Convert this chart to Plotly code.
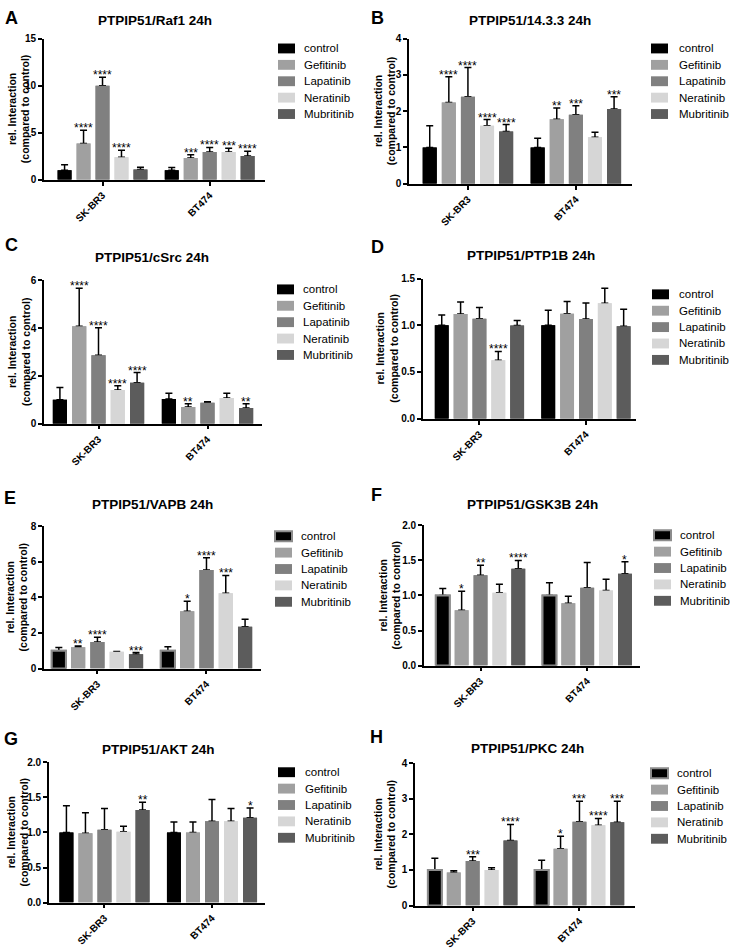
import plotly.graph_objects as go

GROUPS = ["SK-BR3", "BT474"]
SERIES = ["control", "Gefitinib", "Lapatinib", "Neratinib", "Mubritinib"]
COLORS = ["#000000", "#a0a0a0", "#808080", "#d6d6d6", "#5c5c5c"]

# A: PTPIP51/Raf1
RAF1_MEAN = [[1.0, 3.86, 10.0, 2.38, 1.09], [1.0, 2.31, 2.94, 2.94, 2.52]]
RAF1_ERR = [[0.6, 1.4, 0.9, 0.77, 0.24], [0.3, 0.35, 0.5, 0.42, 0.5]]
RAF1_SIG = [["", "****", "****", "****", ""], ["", "***", "****", "***", "****"]]

# B: PTPIP51/14.3.3
P1433_MEAN = [[1.0, 2.24, 2.40, 1.60, 1.44], [1.0, 1.78, 1.90, 1.28, 2.06]]
P1433_ERR = [[0.6, 0.71, 0.8, 0.17, 0.19], [0.25, 0.31, 0.25, 0.14, 0.34]]
P1433_SIG = [["", "****", "****", "****", "****"], ["", "**", "***", "", "***"]]

# C: PTPIP51/cSrc
CSRC_MEAN = [[1.0, 4.08, 2.87, 1.41, 1.72], [1.03, 0.70, 0.88, 1.08, 0.66]]
CSRC_ERR = [[0.52, 1.59, 1.15, 0.18, 0.42], [0.25, 0.14, 0.04, 0.2, 0.17]]
CSRC_SIG = [["", "****", "****", "****", "****"], ["", "**", "", "", "**"]]

# D: PTPIP51/PTP1B
PTP1B_MEAN = [[1.0, 1.12, 1.07, 0.625, 0.998], [1.0, 1.124, 1.068, 1.236, 0.99]]
PTP1B_ERR = [[0.11, 0.13, 0.12, 0.095, 0.053], [0.16, 0.13, 0.17, 0.16, 0.18]]
PTP1B_SIG = [["", "", "", "****", ""], ["", "", "", "", ""]]

# E: PTPIP51/VAPB
VAPB_MEAN = [[1.0, 1.2, 1.5, 0.94, 0.81], [1.0, 3.22, 5.54, 4.24, 2.35]]
VAPB_ERR = [[0.19, 0.07, 0.26, 0.02, 0.09], [0.22, 0.57, 0.69, 1.0, 0.43]]
VAPB_SIG = [["", "**", "****", "", "***"], ["", "*", "****", "***", ""]]

# F: PTPIP51/GSK3B
GSK3B_MEAN = [[1.0, 0.79, 1.29, 1.04, 1.38], [1.0, 0.89, 1.11, 1.07, 1.31]]
GSK3B_ERR = [[0.1, 0.27, 0.14, 0.12, 0.12], [0.18, 0.1, 0.36, 0.16, 0.17]]
GSK3B_SIG = [["", "*", "**", "", "****"], ["", "", "", "", "*"]]

# G: PTPIP51/AKT
AKT_MEAN = [[1.0, 0.99, 1.04, 1.01, 1.32], [1.0, 1.0, 1.16, 1.16, 1.21]]
AKT_ERR = [[0.38, 0.29, 0.3, 0.08, 0.11], [0.15, 0.15, 0.31, 0.18, 0.14]]
AKT_SIG = [["", "", "", "", "**"], ["", "", "", "", "*"]]

# H: PTPIP51/PKC
PKC_MEAN = [[1.0, 0.93, 1.25, 1.0, 1.83], [1.0, 1.60, 2.36, 2.26, 2.34]]
PKC_ERR = [[0.33, 0.05, 0.12, 0.06, 0.45], [0.27, 0.35, 0.57, 0.19, 0.59]]
PKC_SIG = [["", "", "***", "", "****"], ["", "*", "***", "****", "***"]]

W, H = 730, 952
FONT = "Liberation Sans, Arial, sans-serif"
PITCH = 0.177
BAR_W = 0.13

PANELS = [
    dict(letter="A", title="PTPIP51/Raf1 24h", mean=RAF1_MEAN, err=RAF1_ERR, sig=RAF1_SIG,
         ymax=15, dtick=5, fmt="", box=(44, 265, 33, 176), xr=(-0.546, 1.516),
         leg=(278, 302, 43), ytx=19, let=(3, 12.5), tit=(154.5, 15), outline=False),
    dict(letter="B", title="PTPIP51/14.3.3 24h", mean=P1433_MEAN, err=P1433_ERR, sig=P1433_SIG,
         ymax=4, dtick=1, fmt="", box=(409, 632, 33, 180), xr=(-0.546, 1.52),
         leg=(651, 677, 43), ytx=385, let=(369, 12.5), tit=(530, 15), outline=False),
    dict(letter="C", title="PTPIP51/cSrc 24h", mean=CSRC_MEAN, err=CSRC_ERR, sig=CSRC_SIG,
         ymax=6, dtick=2, fmt="", box=(44, 262, 278, 423), xr=(-0.5, 1.5),
         leg=(277, 301, 287), ytx=19, let=(3, 242), tit=(152, 255), outline=False),
    dict(letter="D", title="PTPIP51/PTP1B 24h", mean=PTP1B_MEAN, err=PTP1B_ERR, sig=PTP1B_SIG,
         ymax=1.5, dtick=0.5, fmt=".1f", box=(423, 636, 276, 418), xr=(-0.53, 1.47),
         leg=(652, 677, 292), ytx=387, let=(369, 244), tit=(531, 253), outline=False),
    dict(letter="E", title="PTPIP51/VAPB 24h", mean=VAPB_MEAN, err=VAPB_ERR, sig=VAPB_SIG,
         ymax=8, dtick=2, fmt="", box=(44, 261, 527, 671), xr=(-0.49, 1.5),
         leg=(275, 299, 537), ytx=17, let=(2, 498), tit=(152, 505), outline=True),
    dict(letter="F", title="PTPIP51/GSK3B 24h", mean=GSK3B_MEAN, err=GSK3B_ERR, sig=GSK3B_SIG,
         ymax=2, dtick=0.5, fmt=".1f", box=(424, 640, 526, 668), xr=(-0.53, 1.495),
         leg=(654, 678, 536), ytx=390, let=(369, 495), tit=(532, 505), outline=True),
    dict(letter="G", title="PTPIP51/AKT 24h", mean=AKT_MEAN, err=AKT_ERR, sig=AKT_SIG,
         ymax=2, dtick=0.5, fmt=".1f", box=(49, 265, 766, 908), xr=(-0.516, 1.493),
         leg=(278, 303, 776), ytx=18, let=(2, 742), tit=(158, 753), outline=False),
    dict(letter="H", title="PTPIP51/PKC 24h", mean=PKC_MEAN, err=PKC_ERR, sig=PKC_SIG,
         ymax=4, dtick=1, fmt="", box=(415, 635, 767, 911), xr=(-0.54, 1.52),
         leg=(651, 675, 777), ytx=385, let=(368, 740), tit=(527, 752), outline=True),
]

fig = go.Figure()
layout = dict(
    width=W, height=H, margin=dict(l=0, r=0, t=0, b=0),
    plot_bgcolor="white", paper_bgcolor="white", showlegend=False,
    barmode="overlay", font=dict(family=FONT, color="black"),
)
annotations = []
shapes = []

def px_x(v):
    return v / W

def px_y(v):
    return 1 - v / H

for k, p in enumerate(PANELS, start=1):
    sfx = "" if k == 1 else str(k)
    xa, ya = "x" + sfx, "y" + sfx
    x0, x1, yt, yb = p["box"]
    layout["xaxis" + sfx] = dict(
        domain=[px_x(x0), px_x(x1)], anchor=ya, range=list(p["xr"]),
        tickvals=[0, 1], ticktext=GROUPS, tickangle=-45,
        showline=True, linecolor="black", linewidth=1.6, ticks="outside",
        ticklen=4, tickwidth=1.5, tickcolor="black", showgrid=False, zeroline=False,
        tickfont=dict(family=FONT, size=10, color="black", weight="bold"),
        fixedrange=True,
    )
    yax = dict(
        domain=[px_y(yb), px_y(yt)], anchor=xa, range=[0, p["ymax"]],
        tick0=0, dtick=p["dtick"], showline=True, linecolor="black", linewidth=1.6,
        ticks="outside", ticklen=4, tickwidth=1.5, tickcolor="black",
        showgrid=False, zeroline=False,
        tickfont=dict(family=FONT, size=10, color="black", weight="bold"),
        fixedrange=True,
    )
    if p["fmt"]:
        yax["tickformat"] = p["fmt"]
    layout["yaxis" + sfx] = yax

    for i, name in enumerate(SERIES):
        ys = [p["mean"][g][i] for g in range(2)]
        es = [p["err"][g][i] for g in range(2)]
        line = dict(width=2, color="#8c8c8c") if (p["outline"] and i == 0) else dict(width=0)
        common = dict(
            x=[0, 1], y=ys, xaxis=xa, yaxis=ya, width=BAR_W,
            offset=(i - 2) * PITCH - BAR_W / 2, marker=dict(color=COLORS[i], line=line),
            name=name, hoverinfo="skip", showlegend=False,
        )
        fig.add_trace(go.Bar(**common, error_y=dict(
            type="data", symmetric=False, array=es, arrayminus=[0, 0],
            color="black", thickness=1.5, width=3.5)))
        fig.add_trace(go.Bar(**common))
        for g in range(2):
            s = p["sig"][g][i]
            if s:
                annotations.append(dict(
                    x=g + (i - 2) * PITCH, y=ys[g] + es[g], xref=xa, yref=ya,
                    text=s, showarrow=False, yanchor="bottom", xanchor="center",
                    yshift=-7, font=dict(family=FONT, size=12, color="black"),
                ))

    # legend
    sx, tx, ry = p["leg"]
    for i, name in enumerate(SERIES):
        cy = ry + i * 16.6
        if p["outline"] and i == 0:
            lc, lw = "#8c8c8c", 2
        else:
            lc, lw = COLORS[i], 0
        shapes.append(dict(
            type="rect", xref="paper", yref="paper",
            x0=px_x(sx), x1=px_x(sx + 17), y0=px_y(cy + 5), y1=px_y(cy - 5),
            fillcolor=COLORS[i], line=dict(color=lc, width=lw),
        ))
        annotations.append(dict(
            x=px_x(tx), y=px_y(cy), xref="paper", yref="paper", text=name,
            showarrow=False, xanchor="left", yanchor="middle",
            font=dict(family=FONT, size=11.5, color="black"),
        ))

    # y-axis title
    annotations.append(dict(
        x=px_x(p["ytx"]), y=px_y((yt + yb) / 2), xref="paper", yref="paper",
        text="<b>rel. Interaction<br>(compared to control)</b>", textangle=-90,
        showarrow=False, xanchor="center", yanchor="middle",
        font=dict(family=FONT, size=10.5, color="black"),
    ))
    # panel title
    annotations.append(dict(
        x=px_x(p["tit"][0]), y=px_y(p["tit"][1]), xref="paper", yref="paper",
        text="<b>" + p["title"] + "</b>", showarrow=False,
        xanchor="center", yanchor="middle",
        font=dict(family=FONT, size=13.5, color="black"),
    ))
    # panel letter
    annotations.append(dict(
        x=px_x(p["let"][0]), y=px_y(p["let"][1]), xref="paper", yref="paper",
        text="<b>" + p["letter"] + "</b>", showarrow=False,
        xanchor="left", yanchor="middle",
        font=dict(family=FONT, size=18, color="black"),
    ))

layout["annotations"] = annotations
layout["shapes"] = shapes
fig.update_layout(**layout)
fig.write_html(
    "out.html",
    config={"displayModeBar": False},
    post_script="document.body.style.margin='0';document.body.style.overflow='hidden';",
)
